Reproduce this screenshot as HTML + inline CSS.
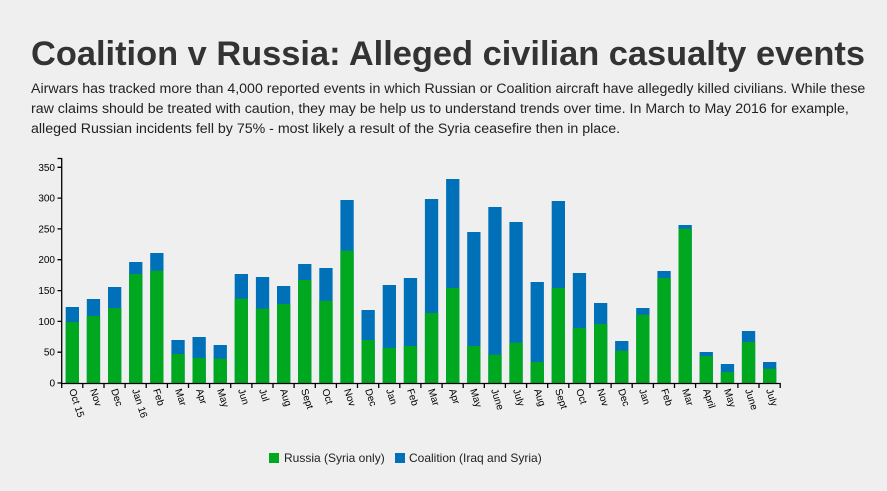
<!DOCTYPE html>
<html><head><meta charset="utf-8"><style>
html,body{margin:0;padding:0;background:#efefef;width:887px;height:491px;overflow:hidden;font-family:"Liberation Sans",Arial,sans-serif;}
h1{position:absolute;left:31px;top:35px;margin:0;font-size:34.4px;font-weight:bold;color:#333;white-space:nowrap;}
p{position:absolute;left:31px;top:79px;margin:0;font-size:14.2px;line-height:20px;color:#222;white-space:nowrap;}
svg{position:absolute;left:0;top:0;}
</style></head><body>
<h1>Coalition v Russia: Alleged civilian casualty events</h1>
<p>Airwars has tracked more than 4,000 reported events in which Russian or Coalition aircraft have allegedly killed civilians. While these<br>raw claims should be treated with caution, they may be help us to understand trends over time. In March to May 2016 for example,<br>alleged Russian incidents fell by 75% - most likely a result of the Syria ceasefire then in place.</p>
<svg width="887" height="491" font-family="Liberation Sans, Arial, sans-serif">
<g fill="#0071b9">
<rect x="65.7" y="307" width="13.3" height="76"/><rect x="86.8" y="299" width="13.3" height="84"/><rect x="108" y="287" width="13.3" height="96"/><rect x="129.1" y="262" width="13.3" height="121"/><rect x="150.2" y="253" width="13.3" height="130"/><rect x="171.4" y="340" width="13.3" height="43"/><rect x="192.5" y="337" width="13.3" height="46"/><rect x="213.6" y="345" width="13.3" height="38"/><rect x="234.7" y="274" width="13.3" height="109"/><rect x="255.9" y="277" width="13.3" height="106"/><rect x="277" y="286" width="13.3" height="97"/><rect x="298.1" y="264" width="13.3" height="119"/><rect x="319.3" y="268" width="13.3" height="115"/><rect x="340.4" y="200" width="13.3" height="183"/><rect x="361.5" y="310" width="13.3" height="73"/><rect x="382.7" y="285" width="13.3" height="98"/><rect x="403.8" y="278" width="13.3" height="105"/><rect x="424.9" y="199" width="13.3" height="184"/><rect x="446.1" y="179" width="13.3" height="204"/><rect x="467.2" y="232" width="13.3" height="151"/><rect x="488.3" y="207" width="13.3" height="176"/><rect x="509.4" y="222" width="13.3" height="161"/><rect x="530.6" y="282" width="13.3" height="101"/><rect x="551.7" y="201" width="13.3" height="182"/><rect x="572.8" y="273" width="13.3" height="110"/><rect x="594" y="303" width="13.3" height="80"/><rect x="615.1" y="341" width="13.3" height="42"/><rect x="636.2" y="308" width="13.3" height="75"/><rect x="657.4" y="271" width="13.3" height="112"/><rect x="678.5" y="225" width="13.3" height="158"/><rect x="699.6" y="352" width="13.3" height="31"/><rect x="720.8" y="364" width="13.3" height="19"/><rect x="741.9" y="331" width="13.3" height="52"/><rect x="763" y="362" width="13.3" height="21"/>
</g>
<g fill="#00a81f">
<rect x="65.7" y="322" width="13.3" height="61"/><rect x="86.8" y="316" width="13.3" height="67"/><rect x="108" y="308" width="13.3" height="75"/><rect x="129.1" y="274" width="13.3" height="109"/><rect x="150.2" y="270.7" width="13.3" height="112.3"/><rect x="171.4" y="354" width="13.3" height="29"/><rect x="192.5" y="358" width="13.3" height="25"/><rect x="213.6" y="358.7" width="13.3" height="24.3"/><rect x="234.7" y="298.7" width="13.3" height="84.3"/><rect x="255.9" y="308.7" width="13.3" height="74.3"/><rect x="277" y="304" width="13.3" height="79"/><rect x="298.1" y="280" width="13.3" height="103"/><rect x="319.3" y="300.7" width="13.3" height="82.3"/><rect x="340.4" y="250.7" width="13.3" height="132.3"/><rect x="361.5" y="340" width="13.3" height="43"/><rect x="382.7" y="348" width="13.3" height="35"/><rect x="403.8" y="346" width="13.3" height="37"/><rect x="424.9" y="313" width="13.3" height="70"/><rect x="446.1" y="288" width="13.3" height="95"/><rect x="467.2" y="346" width="13.3" height="37"/><rect x="488.3" y="354.7" width="13.3" height="28.3"/><rect x="509.4" y="342.7" width="13.3" height="40.3"/><rect x="530.6" y="362" width="13.3" height="21"/><rect x="551.7" y="288" width="13.3" height="95"/><rect x="572.8" y="328" width="13.3" height="55"/><rect x="594" y="324" width="13.3" height="59"/><rect x="615.1" y="350.7" width="13.3" height="32.3"/><rect x="636.2" y="314.7" width="13.3" height="68.3"/><rect x="657.4" y="278" width="13.3" height="105"/><rect x="678.5" y="228.7" width="13.3" height="154.3"/><rect x="699.6" y="356" width="13.3" height="27"/><rect x="720.8" y="372" width="13.3" height="11"/><rect x="741.9" y="342" width="13.3" height="41"/><rect x="763" y="368.7" width="13.3" height="14.3"/>
</g>
<g stroke="#000" stroke-width="1.3" fill="none">
<path d="M61.7 158 V383.5 H780.5"/>
<path d="M57.5 383H61.7M57.5 352.2H61.7M57.5 321.4H61.7M57.5 290.6H61.7M57.5 259.7H61.7M57.5 228.9H61.7M57.5 198.1H61.7M57.5 167.3H61.7M57.5 158.5H61.7"/>
<path d="M61.7 383v5M82.8 383v5M104 383v5M125.1 383v5M146.2 383v5M167.4 383v5M188.5 383v5M209.6 383v5M230.7 383v5M251.9 383v5M273 383v5M294.1 383v5M315.3 383v5M336.4 383v5M357.5 383v5M378.7 383v5M399.8 383v5M420.9 383v5M442.1 383v5M463.2 383v5M484.3 383v5M505.4 383v5M526.6 383v5M547.7 383v5M568.8 383v5M590 383v5M611.1 383v5M632.2 383v5M653.4 383v5M674.5 383v5M695.6 383v5M716.8 383v5M737.9 383v5M759 383v5M780.2 383v5"/>
</g>
<g font-size="10" fill="#000" text-anchor="end">
<text x="55" y="386.5">0</text><text x="55" y="355.7">50</text><text x="55" y="324.9">100</text><text x="55" y="294.1">150</text><text x="55" y="263.2">200</text><text x="55" y="232.4">250</text><text x="55" y="201.6">300</text><text x="55" y="170.8">350</text>
</g>
<g font-size="10" fill="#000">
<text transform="translate(69,390) rotate(72)">Oct 15</text>
<text transform="translate(90,390) rotate(72)">Nov</text>
<text transform="translate(111,390) rotate(72)">Dec</text>
<text transform="translate(132,390) rotate(72)">Jan 16</text>
<text transform="translate(153,390) rotate(72)">Feb</text>
<text transform="translate(175,390) rotate(72)">Mar</text>
<text transform="translate(196,390) rotate(72)">Apr</text>
<text transform="translate(217,390) rotate(72)">May</text>
<text transform="translate(238,390) rotate(72)">Jun</text>
<text transform="translate(259,390) rotate(72)">Jul</text>
<text transform="translate(280,390) rotate(72)">Aug</text>
<text transform="translate(301,390) rotate(72)">Sept</text>
<text transform="translate(322,390) rotate(72)">Oct</text>
<text transform="translate(344,390) rotate(72)">Nov</text>
<text transform="translate(365,390) rotate(72)">Dec</text>
<text transform="translate(386,390) rotate(72)">Jan</text>
<text transform="translate(407,390) rotate(72)">Feb</text>
<text transform="translate(428,390) rotate(72)">Mar</text>
<text transform="translate(449,390) rotate(72)">Apr</text>
<text transform="translate(470,390) rotate(72)">May</text>
<text transform="translate(491,390) rotate(72)">June</text>
<text transform="translate(513,390) rotate(72)">July</text>
<text transform="translate(534,390) rotate(72)">Aug</text>
<text transform="translate(555,390) rotate(72)">Sept</text>
<text transform="translate(576,390) rotate(72)">Oct</text>
<text transform="translate(597,390) rotate(72)">Nov</text>
<text transform="translate(618,390) rotate(72)">Dec</text>
<text transform="translate(639,390) rotate(72)">Jan</text>
<text transform="translate(661,390) rotate(72)">Feb</text>
<text transform="translate(682,390) rotate(72)">Mar</text>
<text transform="translate(703,390) rotate(72)">April</text>
<text transform="translate(724,390) rotate(72)">May</text>
<text transform="translate(745,390) rotate(72)">June</text>
<text transform="translate(766,390) rotate(72)">July</text>
</g>
<rect x="269" y="453" width="10" height="10" fill="#00a81f"/>
<text x="284" y="462" font-size="12" fill="#222">Russia (Syria only)</text>
<rect x="395" y="453" width="10" height="10" fill="#0071b9"/>
<text x="409" y="462" font-size="12" fill="#222">Coalition (Iraq and Syria)</text>
</svg>
</body></html>
